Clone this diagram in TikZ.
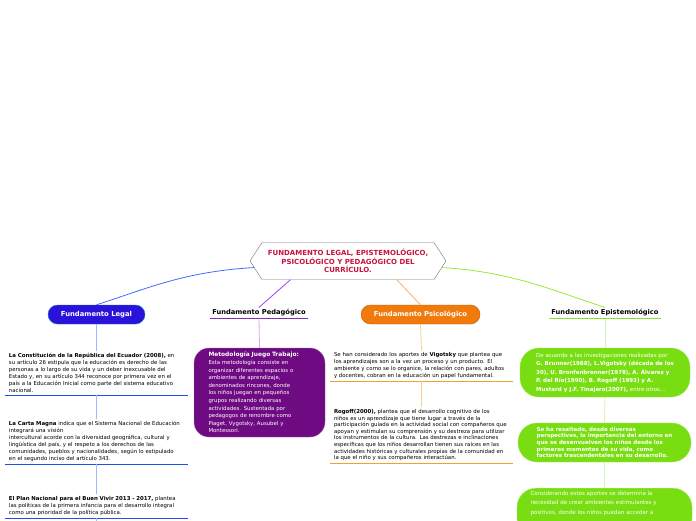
\documentclass[tikz,border=0pt]{standalone}
\usepackage{fontspec}
\setmainfont{DejaVu Sans}
\usepackage{tikz}
\usetikzlibrary{shapes.symbols}
\usetikzlibrary{calc}
\definecolor{rootred}{HTML}{C8143C}
\definecolor{legalblue}{HTML}{2A12DA}
\definecolor{legalline}{HTML}{1E50E8}
\definecolor{legalroot}{HTML}{3D6EFF}
\definecolor{legallight}{HTML}{9DB8FF}
\definecolor{pedapurple}{HTML}{6E0A82}
\definecolor{pedaline}{HTML}{8030B0}
\definecolor{pedaroot}{HTML}{A040F0}
\definecolor{pedalight}{HTML}{D6A8F0}
\definecolor{psicoorange}{HTML}{F07A0C}
\definecolor{psicoline}{HTML}{F2A030}
\definecolor{psicoroot}{HTML}{F8B070}
\definecolor{psicolight}{HTML}{FAD090}
\definecolor{epigreen}{HTML}{78DE12}
\definecolor{epiline}{HTML}{84E22A}
\definecolor{epiroot}{HTML}{8EEE36}
\definecolor{epilight}{HTML}{D2F5B0}
\tikzstyle{root} = [signal, signal to=west and east, 
signal pointer angle=114,
minimum width=196pt, 
minimum height=37pt,
align=center, 
draw=black!55, 
fill=white,
text=rootred,
font=\fontsize{7}{8.5}\selectfont\bfseries]
\tikzstyle{pill} = [rectangle, rounded corners=9.5pt, 
minimum height=19pt, 
text=white,
font=\fontsize{6.8}{7}\selectfont\bfseries]
\tikzstyle{plain} = [inner sep=2pt, 
font=\fontsize{6.7}{7}\selectfont\bfseries]
\tikzstyle{textblock} = [inner xsep=4pt, inner ysep=2pt, 
text width=175pt, 
align=left,
font=\fontsize{5.4}{7}\selectfont]
\tikzstyle{greenbox} = [rectangle, rounded corners=19pt, 
align=left, 
draw=epigreen!70!white, 
fill=epigreen,
text=white]
\tikzstyle{link} = [line width=0.8pt]
\begin{document}
\begin{tikzpicture} [x=1pt, y=-1pt]
    \clip (0,0) rectangle (696,520);
    \node (root) [root] at (348,261) {FUNDAMENTO LEGAL, EPISTEMOLÓGICO,\\PSICOLÓGICO Y PEDAGÓGICO DEL\\CURRÍCULO.};

    % branches
    \node (legal) [pill, fill=legalblue, draw=cyan!60!blue, minimum width=97pt] at (96.5,314.5) {Fundamento Legal};
    \node (peda) [plain, minimum width=98pt] at (259,313) {Fundamento Pedagógico};
    \node (psico) [pill, fill=psicoorange, draw=psicoorange!80!black, minimum width=119pt] at (420.5,314.5) {Fundamento Psicológico};
    \node (epi) [plain, minimum width=110pt] at (605,313) {Fundamento Epistemológico};

    \draw [link, legalroot] (root.184) .. controls +(-70,4) and +(50,-16) .. (legal.north);
    \draw [link, pedaroot] (root.198) -- (peda.north);
    \draw [link, psicoroot] (root.339) -- (psico.north);
    \draw [link, epiroot] (root.356) .. controls +(70,4) and +(-50,-16) .. (epi.north);
    \draw [line width=1pt, pedaline] (peda.south west) -- (peda.south east);
    \draw [line width=1pt, epiline] (epi.south west) -- (epi.south east);

    % legal
    \node (legal1) [textblock, anchor=south] at (96.5,395) {\textbf{La Constitución de la República del Ecuador (2008),} en\\su artículo 26 estipula que la educación es derecho de las\\personas a lo largo de su vida y un deber inexcusable del\\Estado y, en su artículo 344 reconoce por primera vez en el\\país a la Educación Inicial como parte del sistema educativo\\nacional.};
    \node (legal2) [textblock, anchor=south] at (96.5,464) {\textbf{La Carta Magna} indica que el Sistema Nacional de Educación\\integrará una visión\\intercultural acorde con la diversidad geográfica, cultural y\\lingüística del país, y el respeto a los derechos de las\\comunidades, pueblos y nacionalidades, según lo estipulado\\en el segundo inciso del artículo 343.};
    \node (legal3) [textblock, anchor=south] at (96.5,518) {\textbf{El Plan Nacional para el Buen Vivir 2013 - 2017,} plantea\\las políticas de la primera infancia para el desarrollo integral\\como una prioridad de la política pública.};
    \coordinate (legalend) at (96.5,530);
    \foreach \n in {legal1,legal2,legal3}
        \draw [line width=1pt, legalline] (\n.south west) -- (\n.south east);
    \draw [link, legallight] (legal.south) -- (legal1.north);
    \draw [link, legallight] (legal1.south) -- (legal2.north);
    \draw [link, legallight] (legal2.south) -- (legal3.north);
    \draw [link, legallight] (legal3.south) -- (legalend);

    % pedagogico
    \node (peda1) [rectangle, rounded corners=15pt, draw=pedapurple!60!white, fill=pedapurple, text=white,
        minimum width=131pt, minimum height=89pt, text width=102pt, align=left,
        font=\fontsize{5.4}{7.6}\selectfont] at (259.5,392.5)
        {{\fontsize{5.9}{7.6}\selectfont\bfseries Metodología Juego Trabajo:}\\Esta metodología consiste en\\organizar diferentes espacios o\\ambientes de aprendizaje,\\denominados rincones, donde\\los niños juegan en pequeños\\grupos realizando diversas\\actividades. Sustentada por\\pedagogos de renombre como\\Piaget, Vygotsky, Ausubel y\\Montessori.};
    \draw [link, pedalight] (peda.south) -- (peda1.north);

    % psicologico
    \node (psico1) [textblock, anchor=south] at (421.5,381) {Se han considerado los aportes de \textbf{Vigotsky} que plantea que\\los aprendizajes son a la vez un proceso y un producto. El\\ambiente y como se lo organice, la relación con pares, adultos\\y docentes, cobran en la educación un papel fundamental.};
    \node (psico2) [textblock, anchor=south, font=\fontsize{5.4}{6.6}\selectfont] at (421.5,463) {\textbf{Rogoff(2000),} plantea que el desarrollo cognitivo de los\\niños es un aprendizaje que tiene lugar a través de la\\participación guiada en la actividad social con compañeros que\\apoyan y estimulan su comprensión y su destreza para utilizar\\los instrumentos de la cultura. Las destrezas e inclinaciones\\específicas que los niños desarrollan tienen sus raíces en las\\actividades históricas y culturales propias de la comunidad en\\la que el niño y sus compañeros interactúan.};
    \foreach \n in {psico1,psico2}
        \draw [line width=1pt, psicoline] (\n.south west) -- (\n.south east);
    \draw [link, psicolight] (psico.south) -- (psico1.north);
    \draw [link, psicolight] (psico1.south) -- (psico2.north);

    % epistemologico
    \node (epi1) [greenbox, minimum width=170pt, minimum height=49pt,
        font=\fontsize{5.5}{8.5}\selectfont] at (605,372.5)
        {De acuerdo a las investigaciones realizadas por\\\textbf{G. Brunner(1988), L.Vigotsky (década de los}\\\textbf{30), U. Bronfenbrenner(1978), A. Álvarez y}\\\textbf{P. del Río(1990), B. Rogoff (1993) y A.}\\\textbf{Mustard y J.F. Tinajero(2007),} entre otros...};
    \node (epi2) [greenbox, minimum width=173pt, minimum height=39pt,
        font=\fontsize{5.5}{6.6}\selectfont\bfseries] at (604.5,442.5)
        {Se ha resaltado, desde diversas\\perspectivas, la importancia del entorno en\\que se desenvuelven los niños desde los\\primeros momentos de su vida, como\\factores trascendentales en su desarrollo.};
    \node (epi3) [greenbox, minimum width=175pt, text width=148pt, anchor=north, inner ysep=3pt,
        font=\fontsize{5.5}{9.5}\selectfont] at (604.5,488)
        {Considerando estos aportes se determina la\\necesidad de crear ambientes estimulantes y\\positivos, donde los niños puedan acceder a\\\mbox{}\\\mbox{}};
    \draw [link, epilight] (epi.south) -- (epi1.north);
    \draw [link, epilight] (epi1.south) -- (epi2.north);
    \draw [link, epilight] (epi2.south) -- (epi3.north);
\end{tikzpicture}
\end{document}
